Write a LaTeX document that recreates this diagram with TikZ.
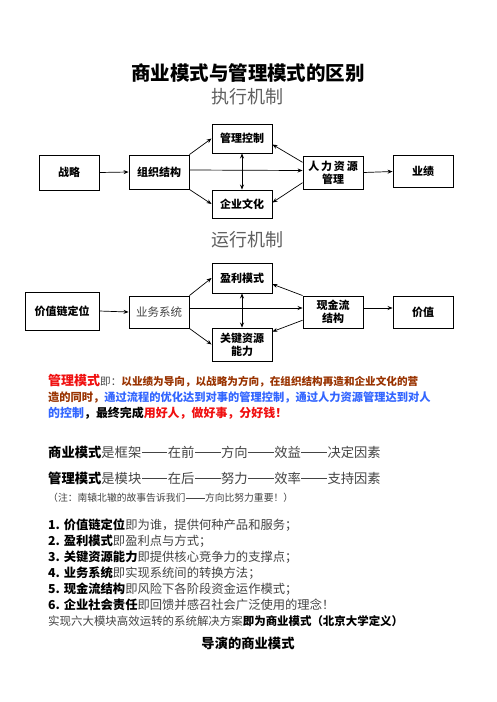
\documentclass[tikz,border=0pt]{standalone}
\usepackage{fontspec}
\newfontfamily\cjk{Noto Sans CJK SC}
\setmainfont{Noto Sans CJK SC}
\usetikzlibrary{arrows.meta,calc}
\definecolor{brn}{HTML}{993300}
\definecolor{blu}{HTML}{3366FF}
\definecolor{rd}{HTML}{F01010}
\definecolor{gry}{HTML}{444444}
\definecolor{sub}{HTML}{606060}
\newcommand{\dd}{\hbox to 2em{\hss\rule[0.33em]{1.92em}{0.55pt}\hss}}
\tikzset{
  box/.style={draw, line width=0.9pt, minimum width=60pt, inner sep=1pt, align=center,
    font=\cjk\bfseries\fontsize{11}{13}\selectfont},
  arr/.style={-{Stealth[length=5pt,width=4pt]}, line width=0.7pt},
  darr/.style={{Stealth[length=5pt,width=4pt]}-{Stealth[length=5pt,width=4pt]}, line width=0.7pt},
  txt/.style={anchor=base west, inner sep=0pt},
}
\begin{document}
\begin{tikzpicture}[x=1pt,y=-1pt]
\path[use as bounding box, fill=white] (0,0) rectangle (496,702);
% titles
\node (title) at (248,73) {\cjk\bfseries\fontsize{19.5}{22}\selectfont 商业模式与管理模式的区别};
\node[text=sub] (sub1) at (247,97) {\cjk\fontsize{18}{20}\selectfont 执行机制};
% diagram 1
\node[box, minimum height=35pt] (zl) at (69,172.5) {战略};
\node[box, minimum height=34pt] (zz) at (159,172) {组织结构};
\node[box, minimum height=29pt] (gl) at (242,138.5) {管理控制};
\node[box, minimum height=28pt] (qy) at (242,204) {企业文化};
\node[box, minimum height=33pt] (rl) at (333,172.5) {人\,力\,资\,源\\管理};
\node[box, minimum height=32pt] (yj) at (423,171.5) {业绩};
\draw[arr] (zl.east) -- (zz.west);
\draw[arr] ($(zz.east)+(0,-2)$) -- ($(rl.west)+(0,-2)$);
\draw[arr] (zz.north east) -- (gl.west);
\draw[arr] (zz.south east) -- (qy.west);
\draw[arr] ($(rl.north west)!0.2!(rl.south west)$) -- ($(gl.north east)!0.7!(gl.south east)$);
\draw[arr] ($(rl.north west)!0.8!(rl.south west)$) -- ($(qy.north east)!0.45!(qy.south east)$);
\draw[darr] (gl.south) -- (qy.north);
\draw[arr] (rl.east) -- (yj.west);
% diagram 2
\node[text=sub] (sub2) at (247,240) {\cjk\fontsize{18}{20}\selectfont 运行机制};
\node[box, minimum width=74pt, minimum height=38pt] (jz) at (62,311) {价值链定位};
\node[box, minimum height=32pt, font=\cjk\fontsize{11.5}{13}\selectfont, text=gry] (yw) at (159,312) {业务系统};
\node[box, minimum height=30pt] (yl) at (242,278) {盈利模式};
\node[box, minimum height=33pt] (gj) at (242,344.5) {关键资源\\能力};
\node[box, minimum height=32pt] (xj) at (333,312) {现金流\\结构};
\node[box, minimum height=32pt] (jv) at (423,312) {价值};
\draw[arr] (jz.east) -- (yw.west);
\draw[arr] ($(yw.east)+(0,-4)$) -- ($(xj.west)+(0,-4)$);
\draw[arr] (yw.north east) -- (yl.west);
\draw[arr] (yw.south east) -- (gj.west);
\draw[arr] (xj.north west) -- ($(yl.north east)!0.7!(yl.south east)$);
\draw[arr] ($(xj.north west)!0.75!(xj.south west)$) -- ($(gj.north east)!0.12!(gj.south east)$);
\draw[darr] (yl.south) -- (gj.north);
\draw[arr] ($(xj.east)+(0,-4)$) -- ($(jv.west)+(0,-4)$);
% paragraph
\node[txt] (p1) at (48,385.5) {\cjk\fontsize{10.6}{13}\selectfont{\bfseries\color{rd}\fontsize{13}{14}\selectfont 管理模式}{\color{gry}即：}{\bfseries\color{brn}以业绩为导向，以战略为方向，在组织结构再造和企业文化的营}};
\node[txt] (p2) at (48,401.5) {\cjk\bfseries\fontsize{11.25}{13}\selectfont{\color{brn}造的同时，}{\color{blu}通过流程的优化达到对事的管理控制，通过人力资源管理达到对人}};
\node[txt] (p3) at (48,417) {\cjk\bfseries\fontsize{11.95}{13}\selectfont{\color{blu}的控制}，最终完成{\color{rd}用好人，做好事，分好钱！}};
% comparison
\node[txt] (c1) at (48,457) {\cjk\fontsize{13.3}{15}\selectfont{\bfseries 商业模式}{\color{gry}是框架\dd 在前\dd 方向\dd 效益\dd 决定因素}};
\node[txt] (c2) at (48,483) {\cjk\fontsize{13.3}{15}\selectfont{\bfseries 管理模式}{\color{gry}是模块\dd 在后\dd 努力\dd 效率\dd 支持因素}};
\node[txt, text=gry] (c3) at (48,501.5) {\cjk\fontsize{9.8}{12}\selectfont （注：南辕北辙的故事告诉我们\dd 方向比努力重要！）};
% list
\node[txt] (l1) at (48,529) {\cjk\fontsize{12.3}{13}\selectfont{\bfseries 1. 价值链定位}{\color{gry}即为谁，提供何种产品和服务；}};
\node[txt] (l2) at (48,545) {\cjk\fontsize{12.3}{13}\selectfont{\bfseries 2. 盈利模式}{\color{gry}即盈利点与方式；}};
\node[txt] (l3) at (48,561) {\cjk\fontsize{12.3}{13}\selectfont{\bfseries 3. 关键资源能力}{\color{gry}即提供核心竞争力的支撑点；}};
\node[txt] (l4) at (48,577) {\cjk\fontsize{12.3}{13}\selectfont{\bfseries 4. 业务系统}{\color{gry}即实现系统间的转换方法；}};
\node[txt] (l5) at (48,593) {\cjk\fontsize{12.3}{13}\selectfont{\bfseries 5. 现金流结构}{\color{gry}即风险下各阶段资金运作模式；}};
\node[txt] (l6) at (48,609) {\cjk\fontsize{12.3}{13}\selectfont{\bfseries 6. 企业社会责任}{\color{gry}即回馈并感召社会广泛使用的理念！}};
\node[txt] (l7) at (48,625) {\cjk\fontsize{11.45}{13}\selectfont{\color{gry}实现六大模块高效运转的系统解决方案}{\bfseries 即为商业模式（北京大学定义）}};
\node (last) at (248,643) {\cjk\bfseries\fontsize{13.3}{15}\selectfont 导演的商业模式};
\end{tikzpicture}
\end{document}
